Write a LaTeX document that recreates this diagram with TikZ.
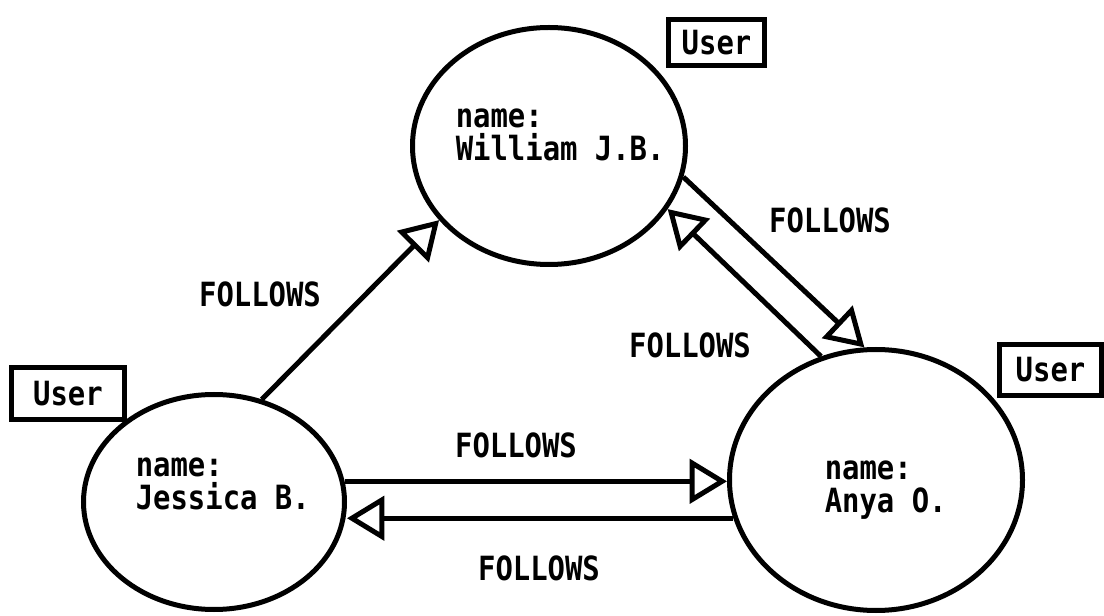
\documentclass[tikz,border=0pt]{standalone}
\usepackage{fontspec}
\newfontfamily\gothic[FakeStretch=0.867]{DejaVu Sans Mono Bold}
\usetikzlibrary{arrows.meta,shapes.geometric}
\begin{document}
\begin{tikzpicture}[x=0.75pt,y=-0.75pt,
  every node/.style={font=\gothic\fontsize{25}{24.75}\selectfont},
  entity/.style={draw, ellipse, line width=3.75pt, inner sep=0pt},
  tagbox/.style={draw, rectangle, line width=3.75pt, inner sep=0pt},
  field/.style={anchor=base west, align=left, inner sep=0pt},
  relname/.style={inner sep=0pt},
  rel/.style={line width=3.75pt, -{Triangle[length=28pt,width=33pt,fill=white]}}
]
\useasboundingbox (0,0) rectangle (1104,616);

% the three users
\node[entity, minimum width=204.75pt, minimum height=177.75pt] (W) at (549,146) {};
\node[entity, minimum width=195.75pt, minimum height=161.25pt] (J) at (214,502) {};
\node[entity, minimum width=219.75pt, minimum height=195.75pt] (A) at (876,480) {};

% their properties (anchored on the baseline of the last line)
\node[field] (Wt) at (455.5,161) {name:\\William J.B.};
\node[field] (Jt) at (135.5,510) {name:\\Jessica B.};
\node[field] (At) at (824.5,513) {name:\\Anya O.};

% node labels
\node[tagbox, minimum width=72pt, minimum height=34.5pt] (Wl) at (716.5,42.5) {User};
\node[tagbox, minimum width=84.75pt, minimum height=39pt] (Jl) at (68,393.5) {User};
\node[tagbox, minimum width=76.5pt, minimum height=38.25pt] (Al) at (1050.5,370) {User};

% relationships
\draw[rel] (J.65.7) -- (W.214.2);
\draw[rel] (W.-13) -- (A.95.8);
\draw[rel] (A.114.9) -- (W.-28.5);
\draw[rel] (J.9.5) -- (J.9.5 -| A.west);
\draw[rel] (A.195.7) -- (A.195.7 -| J.east);

% relationship types
\node[relname] (r1) at (260,294) {FOLLOWS};
\node[relname] (r2) at (830,220) {FOLLOWS};
\node[relname] (r3) at (690,345) {FOLLOWS};
\node[relname] (r4) at (516,445) {FOLLOWS};
\node[relname] (r5) at (539,568) {FOLLOWS};
\end{tikzpicture}
\end{document}
